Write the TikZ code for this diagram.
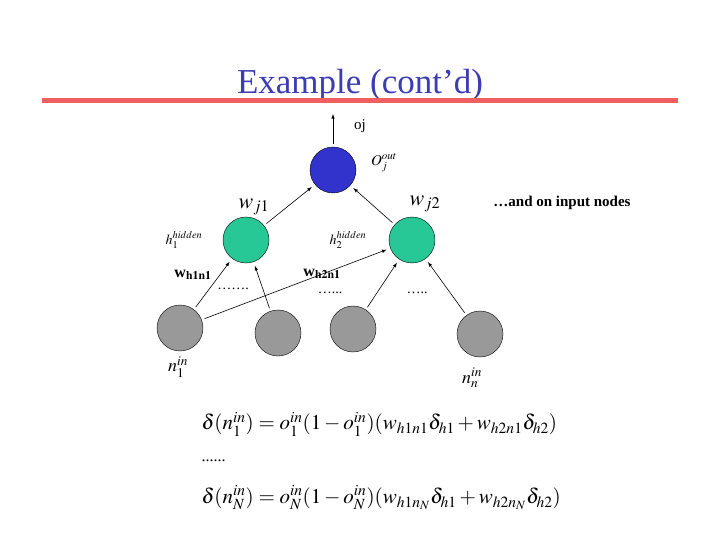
\documentclass[tikz,border=0pt]{standalone}
\usepackage{mathptmx}
\usepackage{fontspec}
\setmainfont{Liberation Serif}
\definecolor{tealg}{RGB}{40,200,150}
\definecolor{outb}{RGB}{50,50,205}
\definecolor{titleb}{RGB}{60,60,180}
\definecolor{redl}{RGB}{240,95,95}
\begin{document}
\begin{tikzpicture}[x=1pt,y=-1pt,
  neuron/.style={circle,draw=black,thin,minimum size=46pt,inner sep=0pt},
  arr/.style={-latex,semithick,shorten >=4pt,shorten <=3pt}]
\useasboundingbox (0,0) rectangle (720,540);
\node[font=\fontsize{35}{35}\selectfont,text=titleb] (title) at (360,85) {Example (cont’d)};
\draw[line width=5pt,redl] (42,101) -- (678,101);
\node[neuron,fill=outb] (o) at (333,170) {};
\coordinate (otop) at (333,110);
\draw[arr] (o.north) -- (otop);
\node[font=\fontsize{15}{15}\selectfont] (oj) at (360,126) {oj};
\node[font=\fontsize{15}{15}\selectfont] (olab) at (384,163) {$O_j^{out}$};
\node[neuron,fill=tealg] (h1) at (246,240) {};
\node[neuron,fill=tealg] (h2) at (412,240) {};
\draw[arr] (h1) -- (o);
\draw[arr] (h2) -- (o);
\node[font=\fontsize{22}{22}\selectfont] (wj1) at (254,207) {$w_{j1}$};
\node[font=\fontsize{22}{22}\selectfont] (wj2) at (425,204) {$w_{j2}$};
\node[font=\bfseries\fontsize{15}{15}\selectfont] (and) at (562,203) {…and on input nodes};
\node[font=\fontsize{14}{14}\selectfont] (h1l) at (184,240) {$h_1^{hidden}$};
\node[font=\fontsize{14}{14}\selectfont] (h2l) at (348,240) {$h_2^{hidden}$};
\node[neuron,fill=gray!80] (n1) at (180,328) {};
\node[neuron,fill=gray!80] (n2) at (278,333) {};
\node[neuron,fill=gray!80] (n3) at (353,329) {};
\node[neuron,fill=gray!80] (n4) at (480,334) {};
\draw[arr] (n1) -- (h1);
\draw[arr] (n1) -- (h2);
\draw[arr] (n2) -- (h1);
\draw[arr] (n3) -- (h2);
\draw[arr] (n4) -- (h2);
\node[font=\bfseries\fontsize{16}{16}\selectfont] (w1) at (193,275) {w$_{\mathbf{h1n1}}$};
\node[font=\bfseries\fontsize{16}{16}\selectfont] (w2) at (322,274) {w$_{\mathbf{h2n1}}$};
\node[font=\fontsize{14}{14}\selectfont] (d1) at (233,289) {…….};
\node[font=\fontsize{14}{14}\selectfont] (d2) at (330,293) {…...};
\node[font=\fontsize{14}{14}\selectfont] (d3) at (417,293) {…..};
\node[font=\fontsize{18}{18}\selectfont] (n1l) at (178,367) {$n_1^{in}$};
\node[font=\fontsize{18}{18}\selectfont] (nnl) at (472,378) {$n_n^{in}$};
\node[anchor=west,font=\fontsize{21}{21}\selectfont] (e1) at (198,424) {$\delta(n_1^{in})=o_1^{in}(1-o_1^{in})(w_{h1n1}\delta_{h1}+w_{h2n1}\delta_{h2})$};
\node[anchor=west,font=\fontsize{16}{16}\selectfont] (dd) at (198,461) {......};
\node[anchor=west,font=\fontsize{21}{21}\selectfont] (e2) at (198,498) {$\delta(n_N^{in})=o_N^{in}(1-o_N^{in})(w_{h1n_N}\delta_{h1}+w_{h2n_N}\delta_{h2})$};
\end{tikzpicture}
\end{document}
